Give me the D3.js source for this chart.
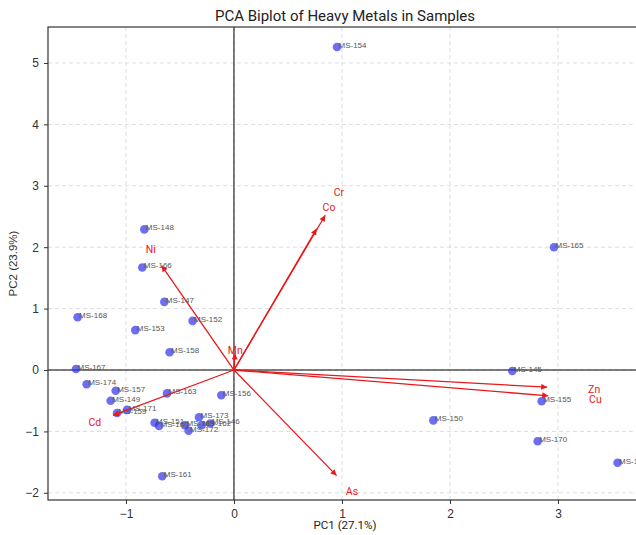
<!DOCTYPE html>
<html>
<head>
<meta charset="utf-8">
<script src="https://cdn.jsdelivr.net/npm/d3@7"></script>
<style>
  html, body { margin: 0; padding: 0; background: #fff; }
  svg { display: block; }
</style>
</head>
<body>
<div id="chart"></div>
<script>
// ---- data ----
const sampleNames = ["MS-145","MS-146","MS-147","MS-148","MS-149","MS-150","MS-151","MS-152","MS-153","MS-154",
  "MS-155","MS-156","MS-157","MS-158","MS-159","MS-160","MS-161","MS-162","MS-163","MS-164",
  "MS-165","MS-166","MS-167","MS-168","MS-169","MS-170","MS-171","MS-172","MS-173","MS-174"];
const pc1Scores = [2.577,-0.22,-0.645,-0.830,-1.142,1.846,-0.735,-0.383,-0.914,0.954,
  2.849,-0.117,-1.095,-0.596,-1.083,-0.694,-0.664,-0.30,-0.620,3.552,
  2.963,-0.849,-1.463,-1.448,-0.454,2.812,-0.991,-0.42,-0.324,-1.364];
const pc2Scores = [-0.016,-0.87,1.11,2.29,-0.50,-0.82,-0.86,0.80,0.65,5.26,
  -0.51,-0.41,-0.337,0.29,-0.70,-0.91,-1.73,-0.90,-0.38,-1.51,
  2.00,1.67,0.016,0.86,-0.90,-1.16,-0.65,-0.99,-0.77,-0.233];

const metals = ["Cr","Co","Ni","Mn","Zn","Cu","Cd","As"];
const loadPC1 = [0.845,0.765,-0.67,0.01,2.90,2.91,-1.12,0.95];
const loadPC2 = [2.52,2.30,1.70,0.27,-0.28,-0.42,-0.74,-1.72];

const xTicks = [-1,0,1,2,3];
const yTicks = [-2,-1,0,1,2,3,4,5];
const titleText = "PCA Biplot of Heavy Metals in Samples";
const xLabel = "PC1 (27.1%)";
const yLabel = "PC2 (23.9%)";

// ---- layout ----
const W = 636, H = 535;
const L = 48, R = 642, T = 27, B = 500;

const svg = d3.select("#chart").append("svg").attr("width", W).attr("height", H);

const x = d3.scaleLinear().domain([-1.722, 3.778]).range([L, R]);
const y = d3.scaleLinear().domain([-2.117, 5.586]).range([B, T]);

// grid
const grid = svg.append("g");
grid.selectAll(".gx").data(xTicks).enter().append("line")
  .attr("x1", d => x(d)).attr("x2", d => x(d)).attr("y1", T).attr("y2", B)
  .attr("stroke", "#d4d4d4").attr("stroke-width", 0.8).attr("stroke-dasharray", "4,3");
grid.selectAll(".gy").data(yTicks).enter().append("line")
  .attr("y1", d => y(d)).attr("y2", d => y(d)).attr("x1", L).attr("x2", R)
  .attr("stroke", "#d4d4d4").attr("stroke-width", 0.8).attr("stroke-dasharray", "4,3");

// zero lines
svg.append("line").attr("x1", L).attr("x2", R).attr("y1", y(0)).attr("y2", y(0))
  .attr("stroke", "#000").attr("stroke-width", 1);
svg.append("line").attr("x1", x(0)).attr("x2", x(0)).attr("y1", T).attr("y2", B)
  .attr("stroke", "#000").attr("stroke-width", 1);

// axes
const xAxis = svg.append("g").attr("transform", `translate(0,${B})`)
  .call(d3.axisBottom(x).tickValues(xTicks).tickSize(4).tickPadding(5).tickFormat(d => d < 0 ? "\u2212" + Math.abs(d) : d));
const yAxis = svg.append("g").attr("transform", `translate(${L},0)`)
  .call(d3.axisLeft(y).tickValues(yTicks).tickSize(4).tickPadding(5).tickFormat(d => d < 0 ? "\u2212" + Math.abs(d) : d));
[xAxis, yAxis].forEach(a => {
  a.select(".domain").remove();
  a.selectAll("text").attr("font-family", "Liberation Sans, Arial, sans-serif").attr("font-size", 12).attr("fill", "#333");
  a.selectAll("line").attr("stroke", "#333");
});

// frame
svg.append("rect").attr("x", L).attr("y", T).attr("width", R - L).attr("height", B - T)
  .attr("fill", "none").attr("stroke", "#333").attr("stroke-width", 1.2);

// sample points
const pts = sampleNames.map((n, i) => ({ name: n, px: pc1Scores[i], py: pc2Scores[i] }));
svg.append("g").selectAll("circle").data(pts).enter().append("circle")
  .attr("cx", d => x(d.px)).attr("cy", d => y(d.py)).attr("r", 4.3)
  .attr("fill", "#3030ee").attr("fill-opacity", 0.7);
svg.append("g").selectAll("text").data(pts).enter().append("text")
  .attr("x", d => x(d.px) + 1.5).attr("y", d => y(d.py) + 1)
  .attr("font-family", "Liberation Sans, Arial, sans-serif").attr("font-size", 8)
  .attr("fill", "#555").text(d => d.name);

// arrows
const defs = svg.append("defs");
defs.append("marker").attr("id", "ah").attr("viewBox", "0 0 10 10")
  .attr("refX", 10).attr("refY", 5).attr("markerWidth", 8).attr("markerHeight", 6)
  .attr("markerUnits", "userSpaceOnUse").attr("orient", "auto")
  .append("path").attr("d", "M0,0 L10,5 L0,10 Z").attr("fill", "#e8191b");

const arr = metals.map((m, i) => ({ m, lx: loadPC1[i], ly: loadPC2[i] }));
svg.append("g").selectAll("line").data(arr).enter().append("line")
  .attr("x1", x(0)).attr("y1", y(0))
  .attr("x2", d => x(d.lx)).attr("y2", d => y(d.ly))
  .attr("stroke", "#e8191b").attr("stroke-width", 1.3).attr("marker-end", "url(#ah)");
svg.append("g").selectAll("text").data(arr).enter().append("text")
  .attr("x", d => x(d.lx * 1.15)).attr("y", d => y(d.ly * 1.15))
  .attr("text-anchor", "middle").attr("dominant-baseline", "central")
  .attr("font-family", "Roboto, sans-serif").attr("font-size", 10.5)
  .attr("fill", "#e8191b").text(d => d.m);

// titles
svg.append("text").attr("x", (L + R) / 2).attr("y", 21).attr("text-anchor", "middle")
  .attr("font-family", "Roboto, sans-serif").attr("font-size", 15).attr("fill", "#222").text(titleText);
svg.append("text").attr("x", (L + R) / 2).attr("y", 529).attr("text-anchor", "middle")
  .attr("font-family", "Roboto, sans-serif").attr("font-size", 11.5).attr("fill", "#222").text(xLabel);
svg.append("text").attr("transform", `translate(17,${(T + B) / 2}) rotate(-90)`)
  .attr("text-anchor", "middle")
  .attr("font-family", "Liberation Sans, Arial, sans-serif").attr("font-size", 11.5).attr("fill", "#333").text(yLabel);
</script>
</body>
</html>
